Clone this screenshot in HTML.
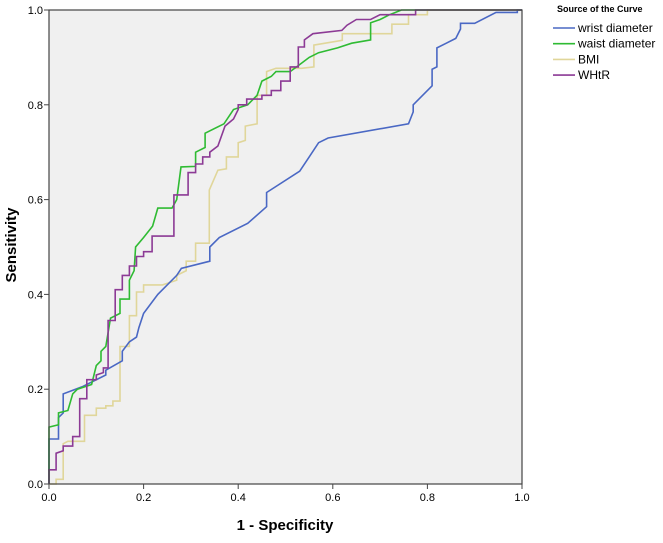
<!DOCTYPE html>
<html><head><meta charset="utf-8"><style>
body{margin:0;background:#fff;}
svg text{font-family:"Liberation Sans",Arial,sans-serif;}
</style></head><body>
<svg width="663" height="538" xmlns="http://www.w3.org/2000/svg">
<rect x="49" y="10" width="473" height="474" fill="#f0f0f0"/>
<g id="axes"></g>
<g id="series"></g>
<rect x="49" y="10" width="473" height="474" fill="none" stroke="#444" stroke-width="1.2"/>
<text x="12" y="245" transform="rotate(-90 12 245)" text-anchor="middle" font-size="15" font-weight="bold" dominant-baseline="middle">Sensitivity</text>
<text x="285" y="530" text-anchor="middle" font-size="15" font-weight="bold">1 - Specificity</text>
<text x="557" y="12" font-size="9" font-weight="bold">Source of the Curve</text>
<g id="legend"></g>
</svg>
<script>
const xTicks=[0,0.2,0.4,0.6,0.8,1.0];
const yTicks=[0,0.2,0.4,0.6,0.8,1.0];
const seriesNames=["wrist diameter","waist diameter","BMI","WHtR"];
const seriesColors=["#4a68c4","#2fbb33","#e0d69a","#8c3a95"];
const wristX=[0,0,0.02,0.02,0.03,0.03,0.07,0.12,0.12,0.155,0.155,0.17,0.185,0.19,0.2,0.23,0.27,0.28,0.34,0.34,0.36,0.42,0.46,0.46,0.53,0.55,0.57,0.59,0.76,0.77,0.77,0.81,0.81,0.82,0.82,0.84,0.86,0.87,0.87,0.9,0.945,0.99,0.99,1];
const wristY=[0,0.095,0.095,0.14,0.15,0.19,0.205,0.23,0.24,0.26,0.28,0.3,0.31,0.33,0.36,0.4,0.44,0.455,0.47,0.5,0.52,0.55,0.585,0.615,0.66,0.69,0.72,0.73,0.76,0.785,0.8,0.84,0.875,0.88,0.92,0.93,0.94,0.96,0.972,0.972,0.995,0.995,1,1];
const waistX=[0,0,0.02,0.02,0.04,0.05,0.06,0.09,0.1,0.11,0.11,0.12,0.13,0.15,0.15,0.17,0.17,0.18,0.183,0.2,0.219,0.23,0.26,0.27,0.279,0.31,0.31,0.33,0.33,0.37,0.39,0.42,0.44,0.45,0.47,0.48,0.51,0.534,0.55,0.57,0.61,0.64,0.68,0.68,0.7,0.72,0.745,1];
const waistY=[0,0.12,0.125,0.15,0.155,0.19,0.2,0.21,0.25,0.26,0.28,0.29,0.35,0.36,0.39,0.39,0.43,0.45,0.5,0.52,0.544,0.582,0.582,0.6,0.669,0.67,0.7,0.71,0.74,0.76,0.79,0.8,0.82,0.85,0.86,0.87,0.87,0.888,0.9,0.91,0.92,0.93,0.937,0.973,0.98,0.99,1,1];
const bmiX=[0,0.015,0.015,0.03,0.03,0.04,0.075,0.075,0.1,0.1,0.12,0.12,0.135,0.135,0.15,0.15,0.17,0.17,0.185,0.185,0.2,0.2,0.24,0.27,0.27,0.29,0.29,0.31,0.31,0.339,0.339,0.357,0.375,0.375,0.4,0.4,0.415,0.415,0.44,0.44,0.46,0.46,0.48,0.534,0.56,0.56,0.62,0.62,0.725,0.725,0.76,0.76,0.8,0.8,0.885,1];
const bmiY=[0,0,0.01,0.01,0.085,0.09,0.09,0.145,0.145,0.16,0.16,0.165,0.165,0.175,0.175,0.29,0.29,0.355,0.355,0.405,0.405,0.42,0.42,0.43,0.44,0.45,0.47,0.47,0.508,0.508,0.62,0.662,0.665,0.69,0.69,0.72,0.725,0.755,0.76,0.82,0.82,0.87,0.877,0.877,0.88,0.926,0.936,0.95,0.95,0.97,0.97,0.99,0.99,1,1,1];
const whtrX=[0,0,0.015,0.015,0.03,0.03,0.05,0.05,0.065,0.065,0.08,0.08,0.1,0.1,0.115,0.115,0.125,0.125,0.14,0.14,0.155,0.155,0.17,0.17,0.185,0.185,0.2,0.2,0.218,0.218,0.264,0.264,0.294,0.294,0.31,0.31,0.325,0.325,0.34,0.34,0.357,0.357,0.372,0.372,0.39,0.39,0.4,0.4,0.418,0.418,0.45,0.45,0.47,0.47,0.49,0.49,0.51,0.51,0.527,0.527,0.54,0.54,0.558,0.558,0.619,0.63,0.65,0.68,0.7,0.775,0.775,1];
const whtrY=[0,0.03,0.03,0.065,0.07,0.08,0.08,0.1,0.1,0.18,0.18,0.22,0.22,0.23,0.235,0.245,0.245,0.345,0.345,0.41,0.41,0.44,0.44,0.46,0.46,0.48,0.48,0.49,0.49,0.523,0.523,0.61,0.61,0.657,0.657,0.675,0.675,0.69,0.69,0.7,0.713,0.713,0.755,0.755,0.77,0.77,0.79,0.8,0.8,0.812,0.812,0.82,0.82,0.83,0.83,0.85,0.85,0.88,0.88,0.922,0.922,0.937,0.95,0.95,0.957,0.968,0.98,0.98,0.99,0.99,1,1];
const allX=[wristX,waistX,bmiX,whtrX];
const allY=[wristY,waistY,bmiY,whtrY];

const NS="http://www.w3.org/2000/svg";
const X=v=>49+v*473, Y=v=>484-v*474;
const axes=document.getElementById('axes');
function mk(tag,attrs,parent){const e=document.createElementNS(NS,tag);for(const k in attrs)e.setAttribute(k,attrs[k]);parent.appendChild(e);return e;}
xTicks.forEach(t=>{
  const l=mk('line',{x1:X(t),x2:X(t),y1:484,y2:489,stroke:'#444'},axes);
  
  
  const tx=mk('text',{x:X(t),y:501,'text-anchor':'middle','font-size':11},axes);
  tx.textContent=t.toFixed(1);
  
  
});
yTicks.forEach(t=>{
  const l=mk('line',{x1:44,x2:49,y1:Y(t),y2:Y(t),stroke:'#444'},axes);
  
  
  const tx=mk('text',{x:43,y:Y(t)+4,'text-anchor':'end','font-size':11},axes);
  tx.textContent=t.toFixed(1);
  
  
});
const sg=document.getElementById('series');
const order=[2,0,1,3];
order.forEach(i=>{
  const pts=allX[i].map((x,j)=>X(x).toFixed(1)+','+Y(allY[i][j]).toFixed(1)).join(' ');
  const p=mk('polyline',{points:pts,fill:'none',stroke:seriesColors[i],'stroke-width':1.6},sg);
  
  
});
const lg=document.getElementById('legend');
seriesNames.forEach((n,i)=>{
  const y=28+i*15.7;
  const g=mk('g',{},lg);
  
  
  mk('line',{x1:553,x2:575,y1:y,y2:y,stroke:seriesColors[i],'stroke-width':1.6},g);
  const t=mk('text',{x:578,y:y+4,'font-size':12},g);
  t.textContent=n;
});
</script>
</body></html>
